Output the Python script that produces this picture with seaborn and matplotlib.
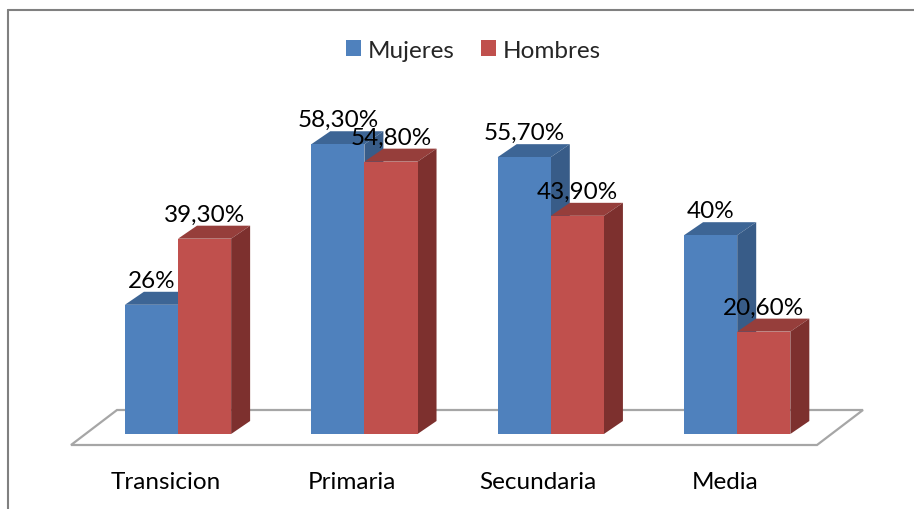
import numpy as np
import pandas as pd
import matplotlib
matplotlib.use("Agg")
import matplotlib.pyplot as plt
import seaborn as sns
from matplotlib.patches import Polygon, Patch
from matplotlib.lines import Line2D

# Data
niveles = ["Transicion", "Primaria", "Secundaria", "Media"]
mujeres = [26.0, 58.3, 55.7, 40.0]
hombres = [39.3, 54.8, 43.9, 20.6]
series = ["Mujeres", "Hombres"]

# colours (front, top, side) per series
front_cols = ["#4F81BD", "#C0504D"]
top_cols = ["#3D6595", "#963E3B"]
side_cols = ["#385C88", "#7D302E"]

df = pd.DataFrame({
    "Nivel": niveles * 2,
    "Sexo": ["Mujeres"] * 4 + ["Hombres"] * 4,
    "Porcentaje": mujeres + hombres,
})

def fmt(v):
    if float(v).is_integer():
        return f"{v:.0f}%"
    return f"{v:.2f}".replace(".", ",") + "%"

sns.set_style("white")
plt.rcParams["font.family"] = ["Lato", "DejaVu Sans"]
FS = 17.5

W, H = 914, 510
fig = plt.figure(figsize=(W / 100, H / 100), dpi=100)
ax = fig.add_axes([0, 0, 1, 1])

sns.barplot(data=df, x="Nivel", y="Porcentaje", hue="Sexo", palette=front_cols,
            width=0.57, saturation=1, legend=False, ax=ax)

# pixel scales of the reference (category step, px per percent, origin)
PX_CAT, PX_PCT = 186.4, 4.97
X0_PX, Y0_PX = 178, 435
ax.set_xlim(-X0_PX / PX_CAT, (W - X0_PX) / PX_CAT)
ax.set_ylim((Y0_PX - H) / PX_PCT, Y0_PX / PX_PCT)
ax.axis("off")

# depth of the pseudo-3D bars in data units
DX, DY = 19 / PX_CAT, 13 / PX_PCT

# floor
fx0, fx1 = (71 - X0_PX) / PX_CAT, (817 - X0_PX) / PX_CAT
fy = -11 / PX_PCT
fdx, fdy = 46 / PX_CAT, 35 / PX_PCT
ax.add_patch(Polygon([(fx0, fy), (fx1, fy), (fx1 + fdx, fy + fdy), (fx0 + fdx, fy + fdy)],
                     closed=True, facecolor="white", edgecolor="#A6A6A6", lw=1.6, zorder=0))

for k, cont in enumerate(ax.containers):
    for bar in cont:
        x, w, h = bar.get_x(), bar.get_width(), bar.get_height()
        z = 1 + 2 * k
        bar.set_zorder(z + 1)
        bar.set_edgecolor("none")
        top = Polygon([(x, h), (x + w, h), (x + w + DX, h + DY), (x + DX, h + DY)],
                      closed=True, facecolor=top_cols[k], edgecolor="none", zorder=z)
        side = Polygon([(x + w, 0), (x + w + DX, DY), (x + w + DX, h + DY), (x + w, h)],
                       closed=True, facecolor=side_cols[k], edgecolor="none", zorder=z)
        ax.add_patch(top)
        ax.add_patch(side)
        ax.text(x + w / 2, h + 18 / PX_PCT, fmt(h), ha="center", va="baseline",
                fontsize=FS, color="black", zorder=10)

# category labels
for i, name in enumerate(niveles):
    ax.text(i - 12.5 / PX_CAT, (Y0_PX - 489) / PX_PCT, name, ha="center", va="baseline",
            fontsize=FS, color="black")

# legend
handles = [Patch(facecolor=c, edgecolor="none", label=s) for c, s in zip(front_cols, series)]
fig.legend(handles=handles, loc="center", bbox_to_anchor=(473.5 / W, 1 - 51 / H),
           ncol=2, frameon=False, fontsize=FS, handlelength=0.62, handleheight=0.62,
           handletextpad=0.29, columnspacing=1.07, borderpad=0)

# chart frame (top and left borders visible)
fig.add_artist(Line2D([8 / W, 8 / W], [0, 1 - 11 / H], transform=fig.transFigure,
                      color="#808080", lw=1.5))
fig.add_artist(Line2D([8 / W, 1], [1 - 11 / H, 1 - 11 / H], transform=fig.transFigure,
                      color="#808080", lw=1.5))

fig.savefig("out.png", dpi=100, facecolor="white")
